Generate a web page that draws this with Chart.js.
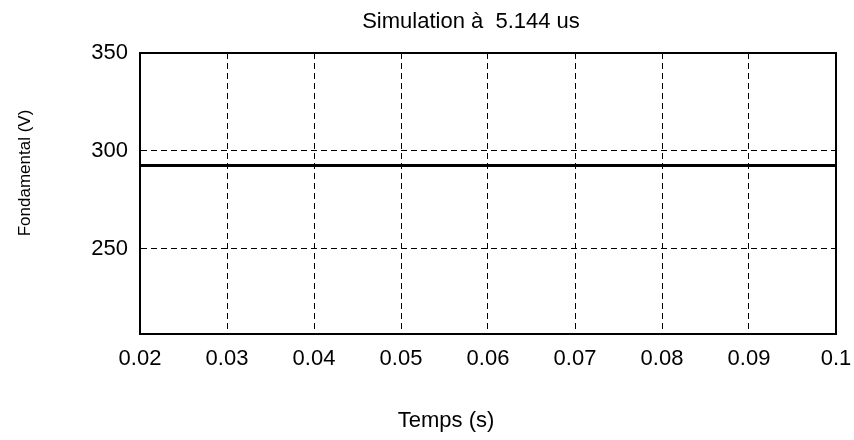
<!DOCTYPE html>
<html>
<head>
<meta charset="utf-8">
<script src="https://cdn.jsdelivr.net/npm/chart.js@4/dist/chart.umd.min.js"></script>
<style>
  html, body { margin: 0; padding: 0; background: #fff; }
  #wrap { width: 854px; height: 440px; }
</style>
</head>
<body>
<div id="wrap"><canvas id="fondChart"></canvas></div>
<script>
// time axis (s) and fundamental voltage (V)
const timeValues = [0.02, 0.03, 0.04, 0.05, 0.06, 0.07, 0.08, 0.09, 0.1];
const fondValues = [292.5, 292.5, 292.5, 292.5, 292.5, 292.5, 292.5, 292.5, 292.5];

const xTicks = [0.02, 0.03, 0.04, 0.05, 0.06, 0.07, 0.08, 0.09, 0.1];
const xTickLabels = ['0.02', '0.03', '0.04', '0.05', '0.06', '0.07', '0.08', '0.09', '0.1'];
const yTicks = [250, 300, 350];

const titleText = 'Simulation \u00e0  5.144 us';
const xTitle = 'Temps (s)';
const yTitle = 'Fondamental (V)';

const FONT = '"Liberation Sans", Arial, sans-serif';

// plot frame + texts drawn by hand, matlab style
const frameAndText = {
  id: 'frameAndText',
  afterDraw(chart) {
    const { ctx, chartArea } = chart;
    ctx.save();
    ctx.strokeStyle = '#000';
    ctx.lineWidth = 2;
    ctx.strokeRect(chartArea.left, chartArea.top,
      chartArea.right - chartArea.left, chartArea.bottom - chartArea.top);

    ctx.fillStyle = '#000';
    ctx.textAlign = 'center';
    ctx.textBaseline = 'middle';
    ctx.font = '22px ' + FONT;
    ctx.fillText(titleText, 471, 22);
    ctx.fillText(xTitle, 446, 421);

    ctx.font = '17px ' + FONT;
    ctx.translate(25, 173);
    ctx.rotate(-Math.PI / 2);
    ctx.fillText(yTitle, 0, 0);
    ctx.restore();
  }
};

window.addEventListener('load', () => {
  new Chart(document.querySelector('#fondChart'), {
    type: 'line',
    data: {
      datasets: [{
        data: timeValues.map((t, i) => ({ x: t, y: fondValues[i] })),
        borderColor: '#000',
        borderWidth: 3,
        pointRadius: 0,
        tension: 0
      }]
    },
    options: {
      responsive: true,
      maintainAspectRatio: false,
      animation: false,
      layout: { padding: { top: 53, right: 18, bottom: 0, left: 0 } },
      plugins: { legend: { display: false }, tooltip: { enabled: false } },
      scales: {
        x: {
          type: 'linear',
          min: 0.02,
          max: 0.1,
          afterBuildTicks: s => { s.ticks = xTicks.map(v => ({ value: v })); },
          afterFit: s => { s.height = 106; s.paddingLeft = 0; s.paddingRight = 0; },
          ticks: {
            color: '#000',
            font: { family: FONT, size: 22 },
            padding: 12,
            maxRotation: 0,
            autoSkip: false,
            callback: (v, i) => xTickLabels[i]
          },
          grid: { color: '#000', lineWidth: 1, drawTicks: false },
          border: { color: '#000', width: 2, dash: [6, 4] }
        },
        y: {
          min: 206.5,
          max: 350,
          afterBuildTicks: s => { s.ticks = yTicks.map(v => ({ value: v })); },
          afterFit: s => { s.width = 140; },
          ticks: {
            color: '#000',
            font: { family: FONT, size: 22 },
            padding: 12
          },
          grid: { color: '#000', lineWidth: 1, drawTicks: false },
          border: { color: '#000', width: 2, dash: [6, 4] }
        }
      }
    },
    plugins: [frameAndText]
  });
});
</script>
</body>
</html>
